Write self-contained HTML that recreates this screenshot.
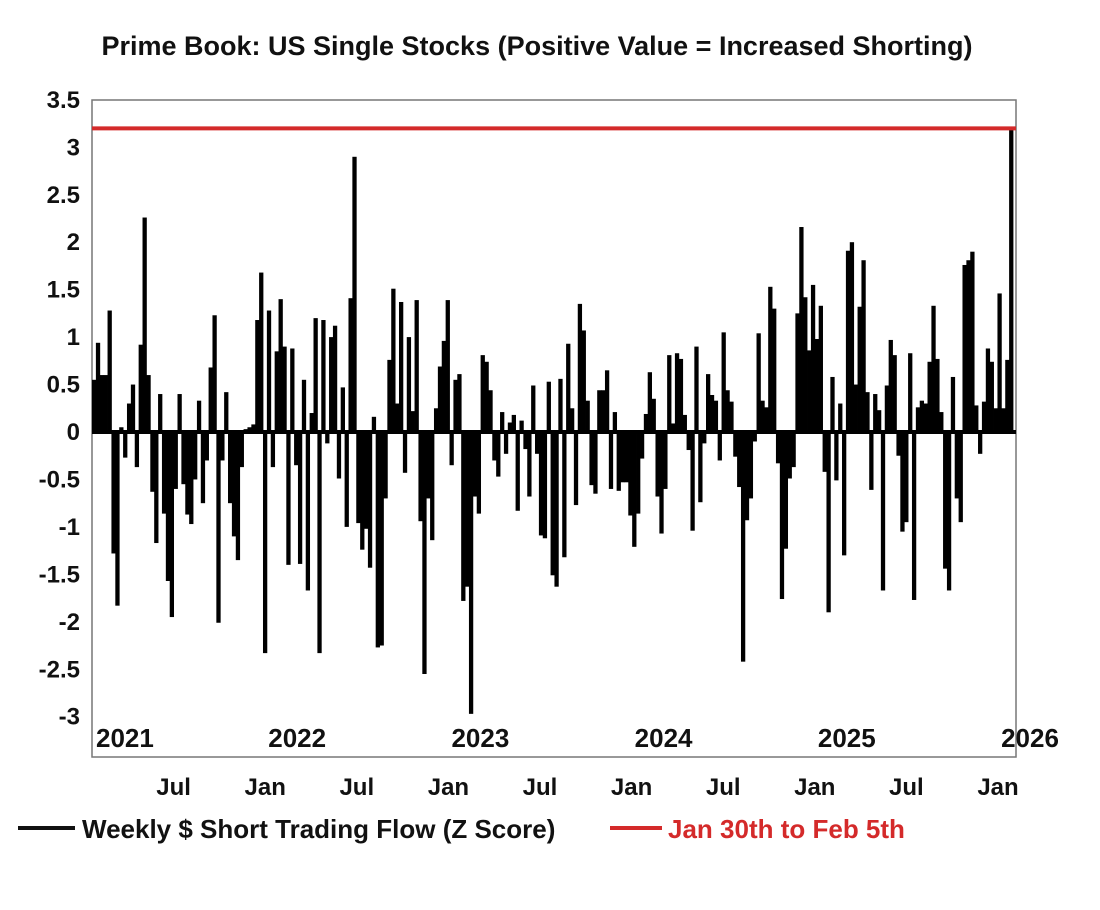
<!DOCTYPE html>
<html><head><meta charset="utf-8"><style>
body{margin:0;background:#fff;}
svg text{font-family:"Liberation Sans Narrow","Liberation Sans",sans-serif;font-weight:bold;}
</style></head><body>
<svg id="chart" width="1100" height="905" viewBox="0 0 1100 905" xmlns="http://www.w3.org/2000/svg">
<rect width="1100" height="905" fill="#fff"/>
<text x="537" y="55" font-size="27" text-anchor="middle" fill="#111">Prime Book: US Single Stocks (Positive Value = Increased Shorting)</text>
<rect x="92" y="100" width="924" height="657" fill="none" stroke="#777" stroke-width="1.5"/>
<g id="yticks"></g>
<g id="bars"></g>
<g id="xlabels"></g>
<g>
<line x1="18" y1="828" x2="75" y2="828" stroke="#111" stroke-width="4"/>
<text x="82" y="838" font-size="26" fill="#111">Weekly $ Short Trading Flow (Z Score)</text>
<line x1="610" y1="828" x2="662" y2="828" stroke="#d42a2a" stroke-width="4"/>
<text x="668" y="838" font-size="26" fill="#d42a2a">Jan 30th to Feb 5th</text>
</g>
</svg>
<script>
const yTicks=[3.5,3,2.5,2,1.5,1,0.5,0,-0.5,-1,-1.5,-2,-2.5,-3];
const yTickLabels=["3.5","3","2.5","2","1.5","1","0.5","0","-0.5","-1","-1.5","-2","-2.5","-3"];
const yearLabels=["2021","2022","2023","2024","2025","2026"];
const yearFrac=[0,1,2,3,4,5];
const monthLabels=["Jul","Jan","Jul","Jan","Jul","Jan","Jul","Jan","Jul","Jan"];
const monthFrac=[0.5,1,1.5,2,2.5,3,3.5,4,4.5,5];
const latestValue=3.2;
const weeklyFlow=[
0.55,0.94,0.6,0.6,1.28,-1.28,-1.83,0.05,-0.27,0.3,0.5,-0.37,0.92,2.26,0.6,-0.63,-1.17,0.4,-0.86,-1.57,-1.95,-0.6,0.4,-0.55,-0.87,-0.97,-0.5,0.33,-0.75,-0.3,0.68,1.23,-2.01,-0.3,0.42,-0.75,-1.1,-1.35,-0.37,0.03,0.05,0.08,1.18,1.68,-2.33,1.28,-0.37,0.85,
1.4,0.9,-1.4,0.88,-0.35,-1.39,0.55,-1.67,0.2,1.2,-2.33,1.18,-0.12,1.0,1.12,-0.49,0.47,-1.0,1.41,2.9,-0.96,-1.24,-1.02,-1.43,0.16,-2.27,-2.25,-0.7,0.76,1.51,0.3,1.37,-0.43,1.0,0.22,1.39,-0.94,-2.55,-0.7,-1.14,0.25,0.69,0.96,1.39,-0.35,0.55,0.61,-1.78,-1.63,-2.97,
-0.68,-0.86,0.81,0.74,0.44,-0.3,-0.47,0.21,-0.23,0.1,0.18,-0.83,0.12,-0.18,-0.68,0.49,-0.23,-1.09,-1.12,0.53,-1.51,-1.63,0.56,-1.32,0.93,0.25,-0.77,1.35,1.07,0.33,-0.56,-0.65,0.44,0.44,0.65,-0.6,0.21,-0.62,-0.53,-0.53,-0.88,-1.21,-0.86,-0.28,0.19,
0.63,0.35,-0.68,-1.07,-0.6,0.81,0.09,0.83,0.77,0.18,-0.19,-1.04,0.9,-0.74,-0.12,0.61,0.39,0.33,-0.3,1.05,0.44,0.32,-0.26,-0.58,-2.42,-0.93,-0.7,-0.1,1.04,0.33,0.26,1.53,1.3,-0.33,-1.76,-1.23,-0.49,-0.37,1.25,2.16,1.42,0.86,1.55,
0.98,1.33,-0.42,-1.9,0.58,-0.51,0.3,-1.3,1.91,2.0,0.5,1.32,1.81,0.42,-0.61,0.4,0.23,-1.67,0.49,0.97,0.81,-0.25,-1.05,-0.95,0.83,-1.77,0.26,0.33,0.3,0.74,1.33,0.77,0.21,-1.44,-1.67,0.58,-0.7,-0.95,1.76,1.81,1.9,0.28,-0.23,0.32,0.88,0.74,0.25,1.46,0.25,0.76,3.2
];
const NS="http://www.w3.org/2000/svg";
const X0=92,X1=1013,plotL=92,plotR=1016;
function y(v){return 432-v*94.9;}
function xIdx(i){return X0+(X1-X0)*i/weeklyFlow.length;}
function xYear(f){return 82+f*183.2;}
function mk(tag,attrs,parent){const e=document.createElementNS(NS,tag);for(const k in attrs)e.setAttribute(k,attrs[k]);parent.appendChild(e);return e;}
const yt=document.getElementById('yticks');
yTicks.forEach((v,i)=>{
 const t=mk('text',{x:80,y:y(v)+8,'font-size':24,'text-anchor':'end',fill:'#111'},yt);
 t.textContent=yTickLabels[i];
 
 
});
const bg=document.getElementById('bars');
const w=(X1-X0)/weeklyFlow.length;
weeklyFlow.forEach((v,i)=>{
 const x=xIdx(i);
 const r=mk('rect',{x:x,y:Math.min(y(v),y(0)),width:w+0.4,height:Math.abs(y(v)-y(0)),fill:'#000'},bg);
 
 
});
const zl=mk('line',{x1:plotL,x2:plotR,y1:y(0),y2:y(0),stroke:'#000','stroke-width':4},bg);


const rl=mk('line',{x1:plotL,x2:plotR,y1:y(latestValue),y2:y(latestValue),stroke:'#d42a2a','stroke-width':4},bg);


const xl=document.getElementById('xlabels');
yearLabels.forEach((s,i)=>{
 let x=xYear(yearFrac[i])+32, anchor='middle';
 if(i===0){x=96;anchor='start';}
 const t=mk('text',{x:x,y:747,'font-size':26,'text-anchor':anchor,fill:'#111'},xl);
 t.textContent=s;
 
 
});
monthLabels.forEach((s,i)=>{
 const t=mk('text',{x:xYear(monthFrac[i]),y:795,'font-size':24,'text-anchor':'middle',fill:'#111'},xl);
 t.textContent=s;
 
 
});
</script>
</body></html>
